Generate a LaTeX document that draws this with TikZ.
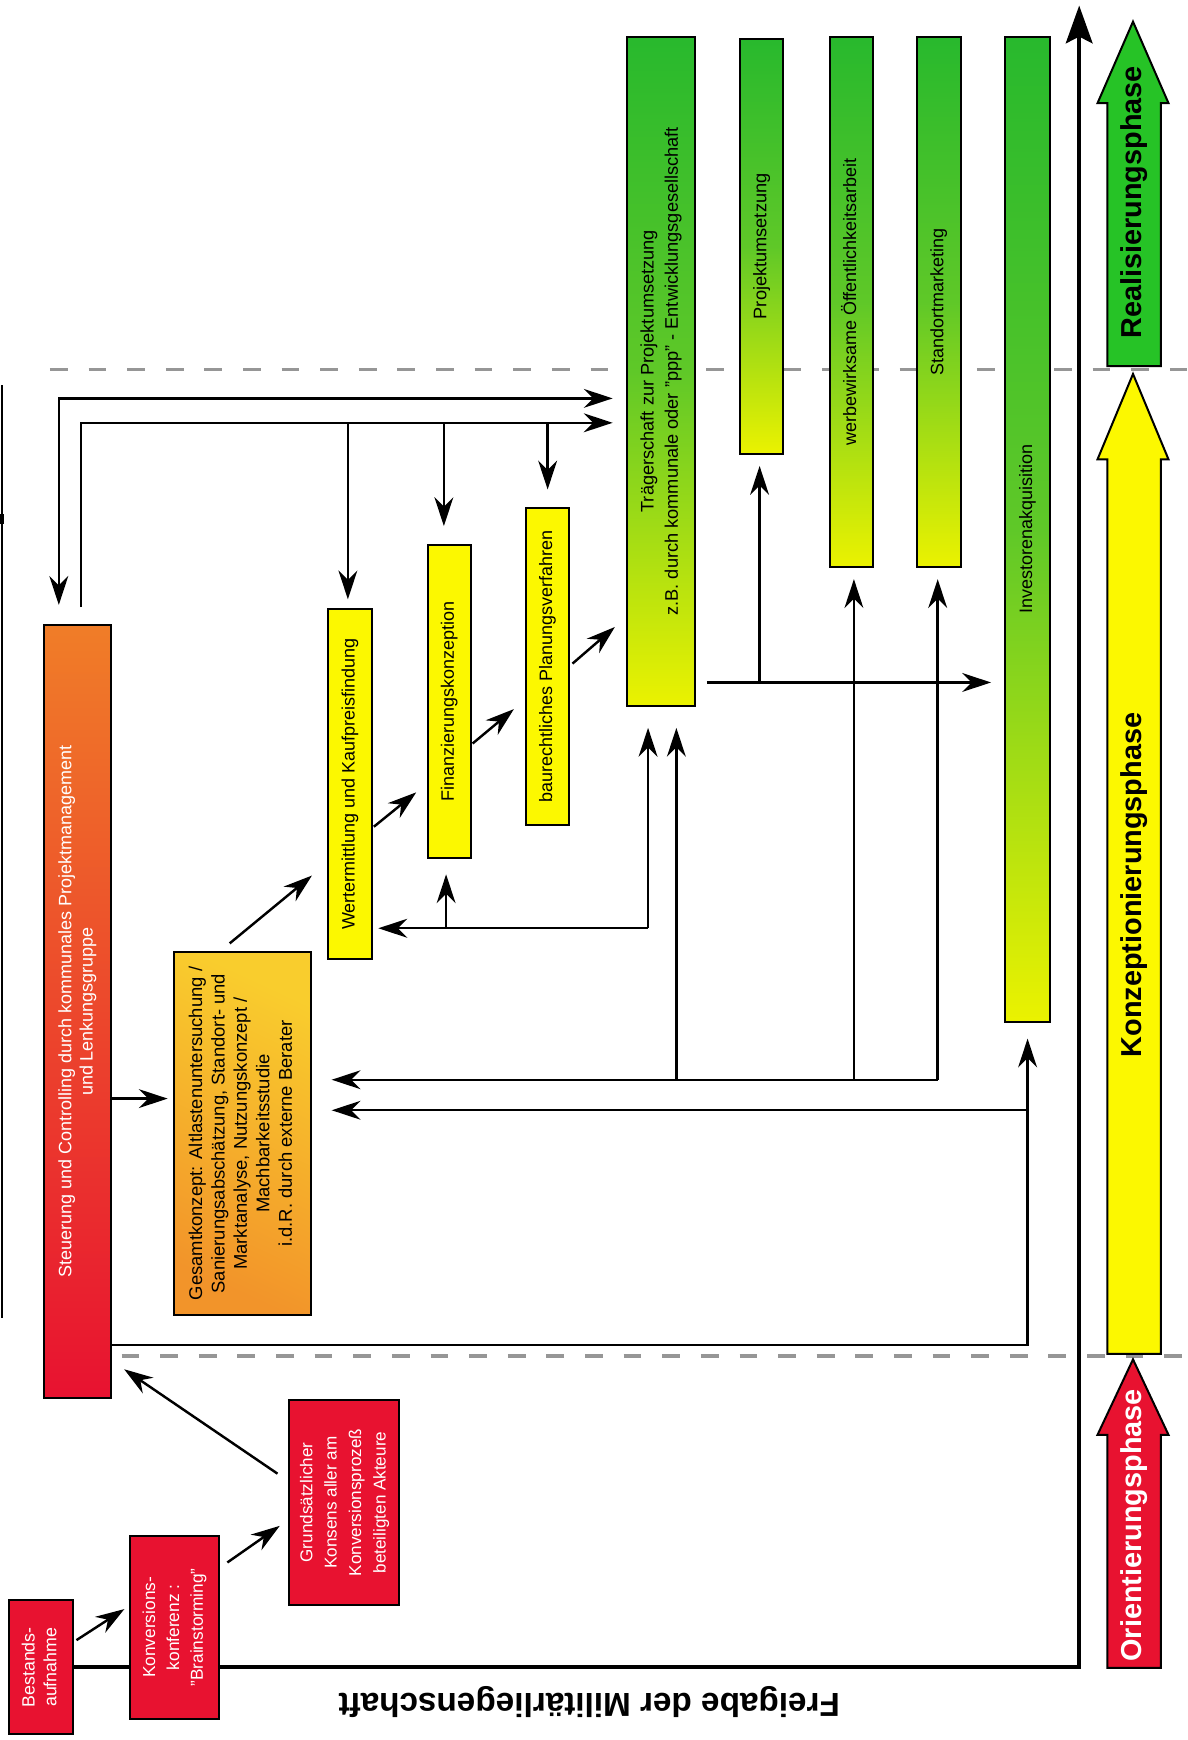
\documentclass[tikz,border=0pt]{standalone}
\usepackage{fontspec}
\setmainfont{Liberation Sans}
\usepackage{graphicx}
\usetikzlibrary{arrows.meta,calc}

\definecolor{cred}{RGB}{232,18,48}
\definecolor{corange}{RGB}{240,125,40}
\definecolor{cgold}{RGB}{249,205,45}
\definecolor{cgoldo}{RGB}{242,148,42}
\definecolor{cyel}{RGB}{252,248,0}
\definecolor{cgreen}{RGB}{40,185,45}
\definecolor{clime}{RGB}{95,200,40}
\definecolor{cyelg}{RGB}{235,242,0}
\definecolor{cgreenA}{RGB}{38,195,38}
\definecolor{cdash}{RGB}{150,150,150}

\newcommand\mkbox[7]{%
  \node[boxbase,#6,minimum width={(#4-#2)*0.5pt},minimum height={(#5-#3)*0.5pt}]
    (#1) at ({(#2+#4)/2},{(#3+#5)/2}) {\rotatebox{90}{#7}};}
\newcommand\tx[3]{\fontsize{#1}{#2}\selectfont\begin{tabular}{@{}c@{}}#3\end{tabular}}

\tikzset{
  boxbase/.style={draw=black, line width=0.9pt, inner sep=0pt, anchor=center},
  redbox/.style={fill=cred, text=white},
  yelbox/.style={fill=cyel, text=black},
  grnbox/.style={top color=cgreen, bottom color=cyelg, middle color=clime, text=black},
  arr/.style={line width=1.1pt, -{Stealth[length=13pt,width=8.5pt]}},
  arrbi/.style={line width=1.1pt, {Stealth[length=13pt,width=8.5pt]}-{Stealth[length=13pt,width=8.5pt]}},
  axisline/.style={line width=1.8pt, -{Stealth[length=17pt,width=12pt,inset=3pt]}},
  dashline/.style={draw=cdash, line width=1.6pt, dash pattern=on 8pt off 9.4pt},
  phasearrow/.style={draw=black, line width=0.9pt},
  phase/.style={rotate=90, inner sep=0pt, font=\fontsize{13}{15}\selectfont\bfseries}
}

\begin{document}
\begin{tikzpicture}[x=0.5pt,y=-0.5pt]
\useasboundingbox (0,0) rectangle (1070,1568);
\fill[white] (0,0) rectangle (1070,1568);

% dashed phase borders
\draw[dashline] (45,333) -- (1070,333);
\draw[dashline] (40,1222) -- (1070,1222);

% left edge line
\draw[line width=1pt] (1.5,347) -- (1.5,1188);
\fill (0,463) rectangle (3.5,472);

% boxes
\mkbox{bestand}{8}{1442}{66}{1563}{redbox}{\tx{8}{9.8}{Bestands-\\aufnahme}}

% axis (under the Konversion box)
\coordinate (axcorner) at (972.5,1502.5);
\coordinate (axtop) at (972.5,5);
\draw[axisline] (bestand.east) -- (axcorner) -- (axtop);

\mkbox{konf}{117}{1384}{197}{1549}{redbox}{\tx{7.8}{10.8}{Konversions-\\konferenz :\\"Brainstorming"}}
\mkbox{konsens}{260}{1262}{360}{1446}{redbox}{\tx{7.7}{11}{Grundsätzlicher\\Konsens aller am\\Konversionsprozeß\\beteiligten Akteure}}
\mkbox{steuer}{40}{563}{100}{1260}{top color=corange, bottom color=cred, text=white}{\tx{8.1}{9.6}{Steuerung und Controlling durch kommunales Projektmanagement\\und Lenkungsgruppe}}
\mkbox{gesamt}{157}{858}{280}{1185}{top color=cgold, bottom color=cgoldo, shading angle=-25, text=black}{\tx{8.3}{10.1}{Gesamtkonzept: Altlastenuntersuchung /\\Sanierungsabschätzung, Standort- und\\Marktanalyse, Nutzungskonzept /\\Machbarkeitsstudie\\i.d.R. durch externe Berater}}
\mkbox{wert}{296}{549}{335}{864}{yelbox}{\tx{8.1}{10}{Wertermittlung und Kaufpreisfindung}}
\mkbox{finanz}{386}{491}{424}{773}{yelbox}{\tx{8.1}{10}{Finanzierungskonzeption}}
\mkbox{bau}{474}{458}{513}{743}{yelbox}{\tx{8.1}{10}{baurechtliches Planungsverfahren}}
\mkbox{traeger}{565}{33}{626}{636}{grnbox}{\tx{8.2}{11}{Trägerschaft zur Projektumsetzung\\z.B. durch kommunale oder "ppp" - Entwicklungsgesellschaft}}
\mkbox{umsetz}{667}{35}{706}{409}{grnbox}{\tx{8.2}{10}{Projektumsetzung}}
\mkbox{oeff}{748}{33}{787}{511}{grnbox}{\tx{8.1}{10}{werbewirksame Öffentlichkeitsarbeit}}
\mkbox{stand}{826}{33}{866}{511}{grnbox}{\tx{8.1}{10}{Standortmarketing}}
\mkbox{invest}{906}{33}{946}{921}{grnbox}{\tx{8.1}{10}{Investorenakquisition}}

% diagonal chain
\draw[arr] ($(bestand.east)+(2,-24.5)$) -- ($(konf.west)+(-4,-16.5)$);
\draw[arr] ($(konf.east)+(7,-58.5)$) -- ($(konsens.west)+(-7,21)$);
\draw[arr] ($(konsens.west)+(-9,-26)$) -- ($(steuer.south east)+(11,-27)$);
\coordinate (k3) at (0,990);
\draw[arr] ($(steuer.east |- k3)$) -- ($(gesamt.west |- k3)+(-5,0)$);
\draw[arr] ($(gesamt.north)+(-11.5,-7)$) -- ($(wert.west)+(-14,82.5)$);
\draw[arr] ($(wert.east)+(1,38.5)$) -- ($(finanz.west)+(-10,82)$);
\draw[arr] ($(finanz.east)+(1,38)$) -- ($(bau.west)+(-10,38.5)$);
\draw[arr] ($(bau.east)+(2,-2.5)$) -- ($(traeger.west)+(-10,230.5)$);

% top connectors
\coordinate (k1) at (53,359);
\coordinate (k2) at (73,381);
\draw[arrbi] ($(steuer.north -| k1)+(0,-17)$) -- (k1) -- ($(traeger.west |- k1)+(-12,0)$);
\draw[arr] ($(steuer.north -| k2)+(0,-15)$) -- (k2) -- ($(traeger.west |- k2)+(-12,0)$);
\draw[arr] ($(wert.north |- k2)+(-2,0)$) -- ($(wert.north)+(-2,-8)$);
\draw[arr] ($(finanz.north |- k2)+(-5,0)$) -- ($(finanz.north)+(-5,-16)$);
\draw[arr] (bau.north |- k2) -- ($(bau.north)+(0,-16)$);

% feedback to Wertermittlung / Finanzierung / Traegerschaft
\coordinate (k4) at (584,836.5);
\draw[arr] (k4) -- ($(traeger.south -| k4)+(0,19)$);
\draw[arr] (k4) -- ($(wert.east |- k4)+(5,0)$);
\draw[arr] ($(finanz.south |- k4)+(-3,0)$) -- ($(finanz.south)+(-3,14)$);

% feedback to Gesamtkonzept from Traegerschaft / Oeffentlichkeit / Standort
\coordinate (k5) at (609.5,973);
\draw[arr] (k5) -- ($(traeger.south -| k5)+(0,19)$);
\draw[arr] ($(stand.south |- k5)+(-1,0)$) -- ($(gesamt.east |- k5)+(18,0)$);
\draw[arr] ($(oeff.south |- k5)+(2,0)$) -- ($(oeff.south)+(2,10)$);
\draw[arr] ($(stand.south |- k5)+(-1,0)$) -- ($(stand.south)+(-1,10)$);

% Steuerung -> Investoren, and back to Gesamtkonzept
\coordinate (k8) at (926,1000.5);
\draw[arr] ($(steuer.south east)+(0,-49)$) -| ($(invest.south)+(0,14)$);
\draw[arr] (k8) -- ($(gesamt.east |- k8)+(18,0)$);

% Traegerschaft -> Investoren, Projektumsetzung
\coordinate (k9) at (636,615);
\draw[arr] ($(traeger.east |- k9)+(10,0)$) -- ($(invest.west |- k9)+(-12,0)$);
\draw[arr] ($(umsetz.south |- k9)+(-2,0)$) -- ($(umsetz.south)+(-2,10)$);

% phase arrows
\filldraw[phasearrow, fill=cgreenA] (998,330) -- (998,93) -- (989,93) -- (1021,19.5) -- (1053,93) -- (1046,93) -- (1046,330) -- cycle;
\filldraw[phasearrow, fill=cyel] (998,1220) -- (998,414) -- (989,414) -- (1021,337) -- (1053,414) -- (1046,414) -- (1046,1220) -- cycle;
\filldraw[phasearrow, fill=cred] (998,1503) -- (998,1293) -- (989,1293) -- (1021,1225) -- (1053,1293) -- (1046,1293) -- (1046,1503) -- cycle;
\node[phase, text=black] (realis) at (1022,182.5) {Realisierungsphase};
\node[phase, text=black] (konzept) at (1022,797.5) {Konzeptionierungsphase};
\node[phase, text=white] (orient) at (1022,1374.5) {Orientierungsphase};

% axis label
\node[rotate=180, inner sep=0pt, font=\fontsize{15}{17}\selectfont\bfseries] (freigabe) at (531,1534) {Freigabe der Militärliegenschaft};
\end{tikzpicture}
\end{document}
